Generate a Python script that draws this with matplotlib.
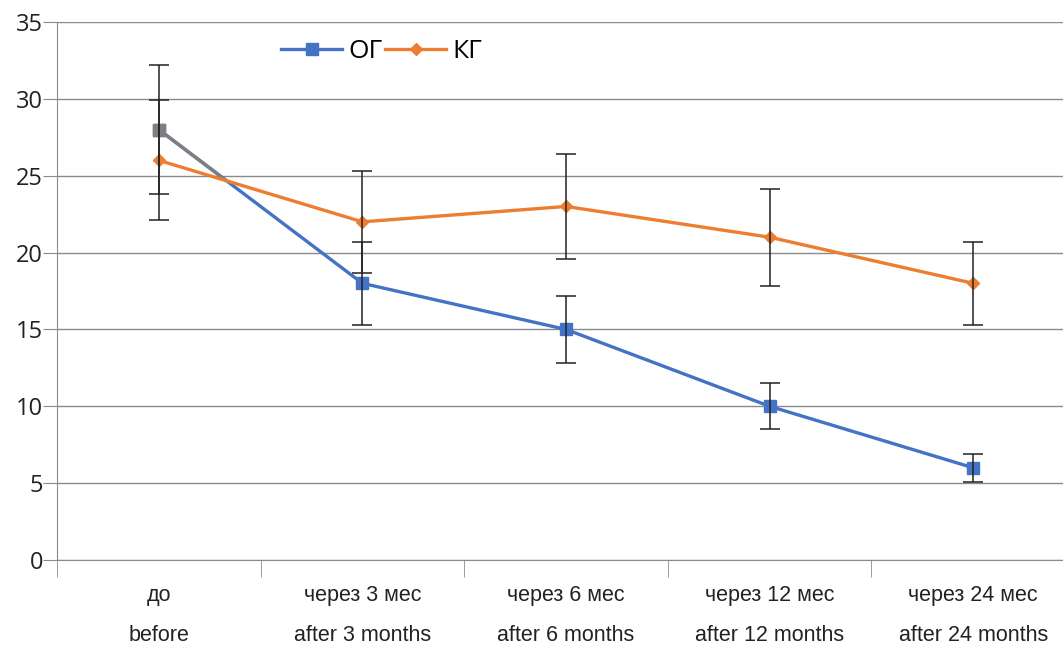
import numpy as np
import matplotlib.pyplot as plt

# categories (ru / en)
labels_ru = ["до", "через 3 мес", "через 6 мес", "через 12 мес", "через 24 мес"]
labels_en = ["before", "after 3 months", "after 6 months", "after 12 months", "after 24 months"]

og_vals = [28, 18, 15, 10, 6]
og_err = [4.2, 2.7, 2.2, 1.5, 0.9]
kg_vals = [26, 22, 23, 21, 18]
kg_err = [3.9, 3.3, 3.4, 3.15, 2.7]

blue = "#4472C4"
orange = "#ED7D31"
gray = "#7F7F7F"

fig = plt.figure(figsize=(10.63, 6.45), dpi=100)
ax = fig.add_axes([57 / 1063, 1 - 560 / 645, (1075 - 57) / 1063, (560 - 22) / 645])

x = np.arange(len(labels_ru))

# OG line; first segment is drawn grey up to where it meets KG
ax.plot(x, og_vals, color=blue, lw=2.4, marker="s", ms=8.5, zorder=3, label="ОГ")
t = (kg_vals[0] - og_vals[0]) / ((og_vals[1] - og_vals[0]) - (kg_vals[1] - kg_vals[0]))
ax.plot([x[0], x[0] + t], [og_vals[0], og_vals[0] + t * (og_vals[1] - og_vals[0])],
        color=gray, lw=2.4, zorder=3.1, solid_capstyle="butt")
ax.plot(x[0], og_vals[0], marker="s", ms=8.5, color=gray, zorder=3.2)

ax.plot(x, kg_vals, color=orange, lw=2.4, marker="D", ms=6, zorder=4, label="КГ")

ax.errorbar(x, og_vals, yerr=og_err, fmt="none", ecolor="#222222", elinewidth=1.1,
            capsize=7, capthick=1.1, zorder=5)
ax.errorbar(x, kg_vals, yerr=kg_err, fmt="none", ecolor="#222222", elinewidth=1.1,
            capsize=7, capthick=1.1, zorder=5)

ax.set_xlim(-0.5, len(x) - 0.5)
ax.set_ylim(0, 35)
ax.set_yticks(np.arange(0, 36, 5))
ax.grid(axis="y", color="#8a8a8a", lw=1)
ax.set_axisbelow(True)

for s in ["top", "right"]:
    ax.spines[s].set_visible(False)
ax.spines["left"].set_color("#8a8a8a")
ax.spines["bottom"].set_color("#8a8a8a")

ax.set_xticks(x)
ax.set_xticklabels([a + "\n" + b for a, b in zip(labels_ru, labels_en)],
                   fontfamily="Liberation Sans", fontsize=15.5, linespacing=2.2, color="#222222")
ax.set_xticks(np.arange(-0.5, len(x), 1), minor=True)
ax.tick_params(axis="x", which="major", length=0, pad=18)
ax.tick_params(axis="x", which="minor", length=12, color="#8a8a8a")
ax.tick_params(axis="y", length=10, color="#8a8a8a", pad=0, labelsize=17, labelcolor="#222222")
for lab in ax.get_yticklabels():
    lab.set_fontfamily("Open Sans")

leg = ax.legend(loc="upper left", bbox_to_anchor=(0.197, 1.012), ncol=2, frameon=False,
                handlelength=2.3, columnspacing=0.1, handletextpad=0.25,
                prop={"family": "Open Sans", "size": 19})

fig.savefig("out.png", dpi=100)
